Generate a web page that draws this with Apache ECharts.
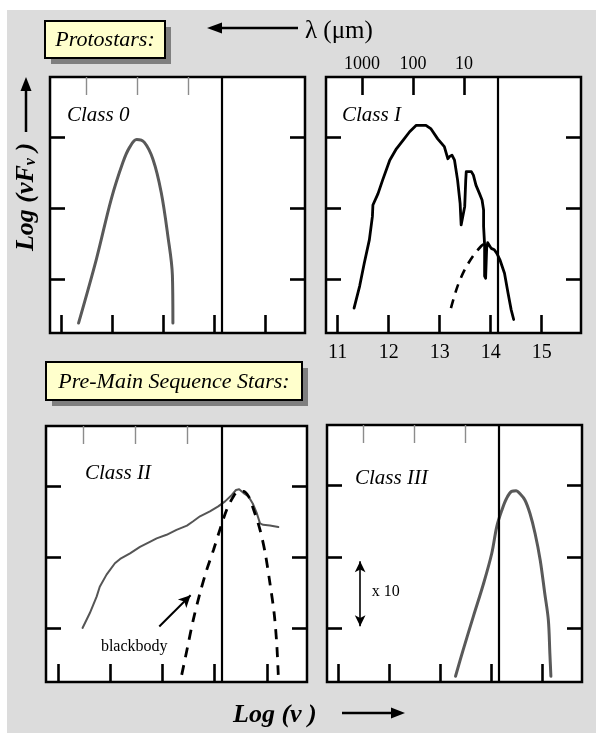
<!DOCTYPE html>
<html>
<head>
<meta charset="utf-8">
<script src="https://cdn.jsdelivr.net/npm/echarts@6/dist/echarts.min.js"></script>
<style>
  html, body { margin: 0; padding: 0; background: #fff; }
  #bg { position: absolute; left: 7px; top: 10px; right: 0; bottom: 0; width: 589px; height: 723px; background: #dcdcdc; }
  #chart { position: absolute; left: 0; top: 0; width: 596px; height: 733px; }
</style>
</head>
<body>
<div id="bg"></div>
<div id="chart"></div>
<script>
// ---- axis ticks ----
const logNuTicks = [11, 12, 13, 14, 15];
const fluxTicks = [1, 2, 3];
const lambdaLabels = ['1000', '100', '10'];
const lambdaMicron = [1000, 100, 10];
const nearIrDivide = 14.13;   // vertical reference line, log(nu)

// ---- Class 0 ----
const class0LogNu   = [11.33, 11.68, 11.97, 12.20, 12.33, 12.47, 12.62, 12.79, 12.95, 13.08, 13.17, 13.18];
const class0LogFlux = [0.39, 1.29, 2.13, 2.65, 2.86, 2.97, 2.93, 2.69, 2.23, 1.62, 1.06, 0.39];

// ---- Class I ----
const class1LogNu = [11.32, 11.43, 11.52, 11.62, 11.68, 11.69, 11.79, 11.88, 12.02, 12.15,
                     12.28, 12.41, 12.54, 12.73, 12.83, 12.96, 13.09, 13.16, 13.19, 13.24,
                     13.29, 13.35, 13.40, 13.42, 13.45, 13.49, 13.51, 13.52, 13.62, 13.66,
                     13.71, 13.78, 13.83, 13.86, 13.86, 13.88, 13.88, 13.90, 13.92, 13.94,
                     14.01, 14.07, 14.12, 14.18, 14.27, 14.34, 14.40, 14.45];
const class1LogFlux = [0.60, 0.91, 1.23, 1.56, 1.89, 2.05, 2.21, 2.40, 2.68, 2.84,
                       2.96, 3.08, 3.17, 3.17, 3.12, 2.98, 2.87, 2.70, 2.73, 2.75,
                       2.68, 2.40, 2.07, 1.77, 1.75, 2.03, 2.40, 2.52, 2.52, 2.47,
                       2.33, 2.21, 2.12, 1.98, 1.75, 1.49, 1.05, 1.02, 1.44, 1.52,
                       1.44, 1.42, 1.37, 1.28, 1.09, 0.81, 0.58, 0.44];
const class1BbLogNu   = [13.22, 13.35, 13.49, 13.65, 13.81, 13.89];
const class1BbLogFlux = [0.60, 0.91, 1.14, 1.33, 1.47, 1.51];

// ---- Class II ----
const class2LogNu = [11.47, 11.61, 11.74, 11.80, 11.93, 12.09, 12.19, 12.38, 12.57, 12.76,
                     12.89, 13.08, 13.27, 13.47, 13.59, 13.72, 13.91, 14.07, 14.20, 14.33,
                     14.41, 14.47, 14.55, 14.65, 14.73, 14.81, 14.87, 14.93, 15.06, 15.22];
const class2LogFlux = [1.01, 1.22, 1.45, 1.59, 1.76, 1.92, 1.98, 2.06, 2.15, 2.22,
                       2.27, 2.32, 2.39, 2.45, 2.51, 2.58, 2.65, 2.72, 2.79, 2.88,
                       2.95, 2.96, 2.91, 2.86, 2.76, 2.62, 2.48, 2.46, 2.45, 2.43];
const class2BbLogNu   = [13.37, 13.47, 13.59, 13.72, 13.85, 13.98, 14.10, 14.23, 14.36, 14.45,
                         14.55, 14.65, 14.74, 14.87, 14.97, 15.06, 15.14, 15.19, 15.22];
const class2BbLogFlux = [0.35, 0.70, 1.12, 1.50, 1.83, 2.11, 2.39, 2.67, 2.86, 2.93,
                         2.93, 2.86, 2.69, 2.39, 2.06, 1.64, 1.22, 0.79, 0.35];

// ---- Class III ----
const class3LogNu   = [13.29, 13.44, 13.64, 13.84, 14.00, 14.10, 14.20, 14.29, 14.39, 14.48,
                       14.55, 14.65, 14.75, 14.85, 14.95, 15.04, 15.11, 15.14, 15.16];
const class3LogFlux = [0.33, 0.70, 1.17, 1.63, 2.05, 2.43, 2.66, 2.82, 2.92, 2.93,
                       2.89, 2.80, 2.61, 2.33, 1.96, 1.49, 1.12, 0.65, 0.33];

// ---- annotations (data coordinates) ----
const blackbodyArrow = [[12.94, 1.03], [13.54, 1.47]];
const blackbodyLabelAt = [12.46, 0.74];
const decadeArrow = [[11.42, 1.94], [11.42, 1.03]];
const decadeLabelAt = [11.92, 1.515];

// ------------------------------------------------------------------
const X_MIN = 10.77, X_MAX = 15.77, Y_MIN = 0.25, Y_MAX = 3.85;
const SERIF = '"Liberation Serif", "Times New Roman", serif';
const zip = (xs, ys) => xs.map((x, i) => [x, ys[i]]);
const lambdaTickPos = lambdaMicron.map(l => Math.log10(2.998e14 / l));

const panels = [
  { left: 50,  top: 77,  width: 255, height: 256, name: 'Class 0',   wave: false },
  { left: 326, top: 77,  width: 255, height: 256, name: 'Class I',   wave: true  },
  { left: 46,  top: 426, width: 261, height: 256, name: 'Class II',  wave: false },
  { left: 327, top: 425, width: 255, height: 257, name: 'Class III', wave: false }
];

const grid = panels.map(p => ({
  left: p.left, top: p.top, width: p.width, height: p.height,
  show: true, backgroundColor: '#fff', borderColor: '#000', borderWidth: 2.5,
  containLabel: false
}));

const xAxis = [];
const yAxis = [];
panels.forEach((p, i) => {
  xAxis.push({
    gridIndex: i, type: 'value', min: X_MIN, max: X_MAX, position: 'bottom',
    axisLine: { show: false }, splitLine: { show: false },
    axisTick: { show: true, inside: true, length: 18, customValues: logNuTicks,
                lineStyle: { color: '#000', width: 2.6 } },
    axisLabel: { show: p.wave, customValues: logNuTicks, margin: 10,
                 fontFamily: SERIF, fontSize: 20, color: '#000',
                 formatter: v => String(Math.round(v)) }
  });
  xAxis.push({
    gridIndex: i, type: 'value', min: X_MIN, max: X_MAX, position: 'top',
    axisLine: { show: false }, splitLine: { show: false },
    axisTick: { show: true, inside: true, length: 18, customValues: lambdaTickPos,
                lineStyle: { color: p.wave ? '#000' : '#8c8c8c', width: p.wave ? 2.6 : 1.4 } },
    axisLabel: { show: p.wave, customValues: lambdaTickPos, margin: 4,
                 fontFamily: SERIF, fontSize: 18, color: '#000',
                 formatter: v => {
                   let k = 0;
                   lambdaTickPos.forEach((t, j) => { if (Math.abs(t - v) < Math.abs(lambdaTickPos[k] - v)) k = j; });
                   return lambdaLabels[k];
                 } }
  });
  ['left', 'right'].forEach(side => {
    yAxis.push({
      gridIndex: i, type: 'value', min: Y_MIN, max: Y_MAX, position: side,
      axisLine: { show: false }, splitLine: { show: false },
      axisTick: { show: true, inside: true, length: 15, customValues: fluxTicks,
                  lineStyle: { color: '#000', width: 2.6 } },
      axisLabel: { show: false }
    });
  });
});

const divideLine = {
  silent: true, symbol: 'none', animation: false,
  label: { show: false },
  lineStyle: { color: '#000', width: 2.2, type: 'solid' },
  data: [{ xAxis: nearIrDivide }]
};

function curve(i, data, color, width, opts) {
  return Object.assign({
    type: 'line', xAxisIndex: 2 * i, yAxisIndex: 2 * i,
    data: data, showSymbol: false, symbol: 'none', animation: false, silent: true,
    lineStyle: { color: color, width: width, type: 'solid', cap: 'round', join: 'round' }
  }, opts || {});
}

const series = [
  curve(0, zip(class0LogNu, class0LogFlux), '#595959', 3, { smooth: 0.35, markLine: divideLine }),
  curve(1, zip(class1LogNu, class1LogFlux), '#000', 2.8, { markLine: divideLine }),
  curve(1, zip(class1BbLogNu, class1BbLogFlux), '#000', 2.6, {
    smooth: 0.3, lineStyle: { color: '#000', width: 2.6, type: [9, 7] } }),
  curve(2, zip(class2LogNu, class2LogFlux), '#555', 2, { markLine: divideLine }),
  curve(2, zip(class2BbLogNu, class2BbLogFlux), '#000', 2.8, {
    smooth: 0.3,
    lineStyle: { color: '#000', width: 2.8, type: [10, 8] },
    markLine: {
      silent: true, animation: false, symbol: ['none', 'arrow'], symbolSize: [9, 12],
      label: { show: false },
      lineStyle: { color: '#000', width: 2, type: 'solid' },
      data: [[{ coord: blackbodyArrow[0] }, { coord: blackbodyArrow[1] }]]
    },
    markPoint: {
      silent: true, animation: false, symbol: 'rect', symbolSize: 1,
      itemStyle: { color: 'rgba(0,0,0,0)' },
      label: { show: true, position: 'inside', formatter: 'blackbody',
               fontFamily: SERIF, fontSize: 16, color: '#000' },
      data: [{ coord: blackbodyLabelAt }]
    }
  }),
  curve(3, zip(class3LogNu, class3LogFlux), '#595959', 3, {
    smooth: 0.35,
    markLine: {
      silent: true, animation: false, symbol: 'none', label: { show: false },
      lineStyle: { color: '#000', width: 2.2, type: 'solid' },
      data: [{ xAxis: nearIrDivide }]
    }
  }),
  curve(3, [], '#000', 1, {
    markLine: {
      silent: true, animation: false, symbol: ['arrow', 'arrow'], symbolSize: [8, 11],
      label: { show: false },
      lineStyle: { color: '#000', width: 1.6, type: 'solid' },
      data: [[{ coord: decadeArrow[0] }, { coord: decadeArrow[1] }]]
    },
    markPoint: {
      silent: true, animation: false, symbol: 'rect', symbolSize: 1,
      itemStyle: { color: 'rgba(0,0,0,0)' },
      label: { show: true, position: 'inside', formatter: 'x 10',
               fontFamily: SERIF, fontSize: 16, color: '#000' },
      data: [{ coord: decadeLabelAt }]
    }
  })
];

function labelBox(x, y, w, h, text) {
  return {
    type: 'group', z: 20, children: [
      { type: 'rect', shape: { x: x + 6, y: y + 6, width: w, height: h }, style: { fill: '#7f7f7f' } },
      { type: 'rect', shape: { x: x, y: y, width: w, height: h },
        style: { fill: '#ffffcc', stroke: '#000', lineWidth: 2 } },
      { type: 'text', x: x + w / 2, y: y + h / 2 + 1,
        style: { text: text, fill: '#000', font: 'italic 22px ' + SERIF, align: 'center', verticalAlign: 'middle' } }
    ]
  };
}

function classLabel(x, y, text) {
  return { type: 'text', z: 20, x: x, y: y,
    style: { text: text, fill: '#000', font: 'italic 21px ' + SERIF, align: 'left', verticalAlign: 'middle' } };
}

function arrow(x1, y1, x2, y2, head, half) {
  const ang = Math.atan2(y2 - y1, x2 - x1);
  const bx = x2 - head * Math.cos(ang), by = y2 - head * Math.sin(ang);
  const px = -Math.sin(ang) * half, py = Math.cos(ang) * half;
  return { type: 'group', z: 20, children: [
    { type: 'line', shape: { x1: x1, y1: y1, x2: bx, y2: by }, style: { stroke: '#000', lineWidth: 2.5 } },
    { type: 'polygon', shape: { points: [[x2, y2], [bx + px, by + py], [bx - px, by - py]] }, style: { fill: '#000' } }
  ] };
}

const graphic = [
  labelBox(45, 21, 120, 37, 'Protostars:'),
  labelBox(46, 362, 256, 38, 'Pre-Main Sequence Stars:'),
  arrow(298, 28, 207, 28, 15, 5.5),
  { type: 'text', z: 20, x: 305, y: 31,
    style: { text: 'λ (μm)', fill: '#000', font: '25px ' + SERIF, align: 'left', verticalAlign: 'middle' } },
  arrow(26, 132, 26, 77, 14, 5.5),
  { type: 'text', z: 20, x: 26, y: 197, rotation: Math.PI / 2,
    style: {
      text: '{a|Log (νF}{s|ν}{a| )}', align: 'center', verticalAlign: 'middle',
      rich: {
        a: { font: 'bold italic 26px ' + SERIF, fill: '#000' },
        s: { font: 'bold italic 16px ' + SERIF, fill: '#000', verticalAlign: 'bottom', padding: [10, 0, 0, 0] }
      }
    } },
  { type: 'text', z: 20, x: 233, y: 715,
    style: { text: 'Log (ν )', fill: '#000', font: 'bold italic 26px ' + SERIF, align: 'left', verticalAlign: 'middle' } },
  arrow(342, 713, 405, 713, 14, 5.5),
  classLabel(67, 115, 'Class 0'),
  classLabel(342, 115, 'Class I'),
  classLabel(85, 473, 'Class II'),
  classLabel(355, 478, 'Class III')
];

const chart = echarts.init(document.getElementById('chart'), null, { renderer: 'canvas' });
chart.setOption({
  animation: false,
  backgroundColor: 'transparent',
  grid: grid,
  xAxis: xAxis,
  yAxis: yAxis,
  series: series,
  graphic: graphic
});
</script>
</body>
</html>
